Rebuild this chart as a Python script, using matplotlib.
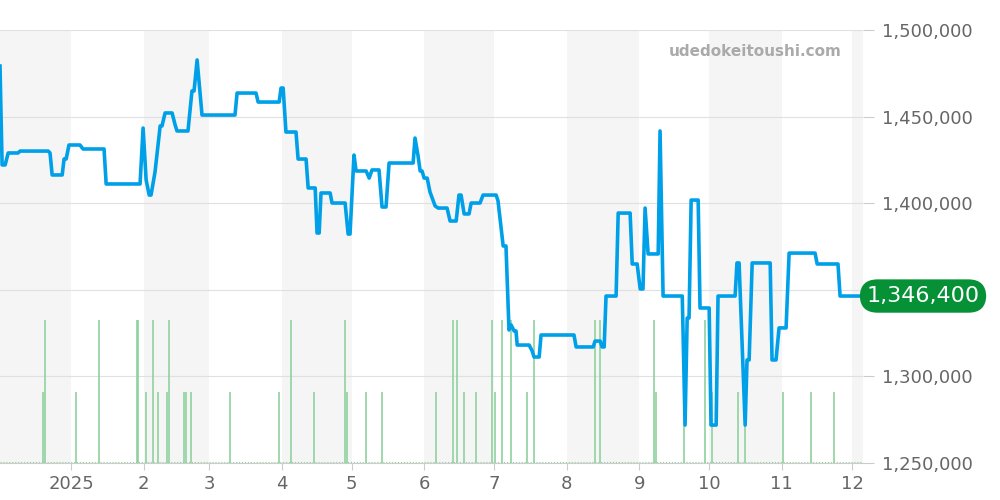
import numpy as np
import matplotlib.pyplot as plt

# price series: day offset from 2025-01-01, price in JPY
days = [-30.4, -29.5, -28.2, -26.9, -22.7, -21.8, -9.8, -9.0, -8.1, -3.8, -3.0, -2.1, -0.9,
        3.8, 5.1, 14.1, 15.0, 29.5, 30.8, 32.1, 33.4, 34.2, 35.9, 38.1, 38.9, 40.2, 43.2,
        44.5, 45.3, 50.0, 51.7, 52.6, 53.9, 56.0, 70.1, 71.0, 79.1, 80.0, 89.0, 89.8, 90.7,
        91.9, 96.2, 97.1, 100.5, 101.4, 104.4, 105.2, 106.1, 106.9, 110.8, 111.6, 117.2,
        118.5, 119.3, 121.0, 121.9, 126.2, 127.5, 128.7, 131.7, 133.0, 134.7, 136.0, 146.3,
        147.1, 148.4, 149.3, 150.1, 151.0, 152.3, 153.5, 155.7, 157.0, 160.8, 162.1, 164.7,
        165.9, 166.8, 168.1, 170.2, 171.1, 174.9, 176.2, 181.8, 182.6, 184.8, 186.0, 187.3,
        188.2, 189.5, 190.3, 190.8, 195.9, 197.2, 198.0, 200.2, 201.0, 215.1, 216.0, 223.3,
        224.1, 226.3, 227.1, 228.0, 228.8, 233.1, 234.0, 239.1, 240.0, 242.1, 243.4, 244.6,
        245.5, 246.8, 251.1, 251.9, 253.2, 261.4, 262.6, 263.5, 264.3, 265.2, 268.2, 269.0,
        272.9, 273.7, 275.9, 276.7, 284.0, 284.8, 285.7, 288.3, 289.1, 290.0, 291.3, 299.0,
        299.8, 301.5, 302.8, 305.8, 307.1, 318.2, 319.1, 328.0, 328.9, 338.3]
prices = [1479200, 1422100, 1422100, 1429000, 1429000, 1430100, 1430100, 1429000, 1416300,
          1416300, 1425500, 1425500, 1433600, 1433600, 1431300, 1431300, 1411100, 1411100,
          1443400, 1413400, 1404700, 1404700, 1418000, 1444600, 1444600, 1452100, 1452100,
          1445200, 1441700, 1441700, 1464800, 1464800, 1482700, 1450900, 1450900, 1463600,
          1463600, 1458400, 1458400, 1466500, 1466500, 1441100, 1441100, 1425500, 1425500,
          1408800, 1408800, 1382800, 1382800, 1405900, 1405900, 1400100, 1400100, 1382200,
          1382200, 1427800, 1418600, 1418600, 1414500, 1419200, 1419200, 1397800, 1397800,
          1423200, 1423200, 1437600, 1427300, 1418600, 1418600, 1414500, 1414500, 1406500,
          1398400, 1397200, 1397200, 1389700, 1389700, 1404700, 1404700, 1393800, 1393800,
          1400100, 1400100, 1404700, 1404700, 1401300, 1375300, 1375300, 1326800, 1329700,
          1326200, 1326200, 1318100, 1318100, 1314700, 1311200, 1311200, 1323900, 1323900,
          1317000, 1317000, 1320400, 1320400, 1317000, 1317000, 1346400, 1346400, 1394300,
          1394300, 1364900, 1364900, 1350500, 1350500, 1397200, 1370700, 1370700, 1441700,
          1346400, 1346400, 1271900, 1333700, 1333700, 1401800, 1401800, 1339500, 1339500,
          1271900, 1271900, 1346400, 1346400, 1365500, 1365500, 1271900, 1309500, 1309500,
          1365500, 1365500, 1309500, 1309500, 1328000, 1328000, 1371200, 1371200, 1364900,
          1364900, 1346400, 1346400]

# trade counts
vol2_days = [-11.3, 12.0, 28.1, 28.8, 35.1, 42.0, 94.1, 117.1, 163.2, 164.9, 180.1, 184.2,
             188.2, 198.1, 224.1, 226.1, 249.2, 271.2]
vol1_days = [-11.8, 2.1, 32.1, 37.1, 41.1, 48.2, 49.1, 51.2, 68.0, 89.1, 104.1, 118.2, 126.2,
             133.1, 156.0, 168.1, 173.1, 181.2, 195.0, 250.2, 262.2, 274.2, 285.3, 288.2,
             304.3, 316.3, 326.3]

month_starts = [0, 31, 59, 90, 120, 151, 181, 212, 243, 273, 304, 334]
month_labels = ["2025", "2", "3", "4", "5", "6", "7", "8", "9", "10", "11", "12"]
price_ticks = list(range(1250000, 1500001, 50000))
last_price = 1346400

fig = plt.figure(figsize=(10, 5), dpi=100)
ax = fig.add_axes([0.0, 0.074, 0.863, 0.866])
x0, x1 = -30.4, 338.7

# alternating month bands
edges = [-31] + month_starts + [366]
for i in range(len(edges) - 1):
    if i % 2 == 0:
        ax.axvspan(edges[i], edges[i + 1], color="#f5f5f5", zorder=0, lw=0)

for v in price_ticks:
    ax.axhline(v, color="#e0e0e0", lw=0.8, zorder=1)

ax2 = ax.twinx()
ax2.set_ylim(0, 6.06)
ax2.vlines(vol2_days, 0, 2, color="#8fd19e", lw=1.2)
ax2.vlines(vol1_days, 0, 1, color="#8fd19e", lw=1.2)
ax2.axhline(0.01, color="#8fd19e", lw=0.8, ls=":")
ax2.set_yticks([])
ax2.set_zorder(ax.get_zorder() + 1)
ax2.patch.set_visible(False)

ax3 = ax.twinx()
ax3.set_zorder(ax2.get_zorder() + 1)
ax3.patch.set_visible(False)
ax3.plot(days, prices, color="#00a0e9", lw=2.6, solid_joinstyle="round")
ax3.set_ylim(1250000, 1500000)
ax3.set_yticks(price_ticks)
# the 1,350,000 label sits under the current-price badge
ax3.set_yticklabels(["" if v == 1350000 else f"{v:,}" for v in price_ticks],
                    fontsize=13, color="#666666")
ax3.tick_params(axis="y", length=8, color="#cccccc", pad=6)
ax.set_yticks([])
ax.set_ylim(1250000, 1500000)

for a in (ax, ax2, ax3):
    a.set_xlim(x0, x1)
    for s in a.spines.values():
        s.set_visible(False)

ax.set_xticks(month_starts)
ax.set_xticklabels(month_labels, fontsize=13, color="#666666")
ax.tick_params(axis="x", length=5, color="#cccccc")
ax.spines["bottom"].set_visible(True)
ax.spines["bottom"].set_color("#cccccc")

ax3.text(1.004, last_price, f"{last_price:,}", transform=ax3.get_yaxis_transform(),
         ha="left", va="center", fontsize=16, color="white",
         bbox=dict(boxstyle="round,pad=0.3,rounding_size=0.8", fc="#069137", ec="none"))
ax3.text(0.975, 0.95, "udedokeitoushi.com", transform=ax3.transAxes, ha="right",
         va="center", fontsize=11, fontweight="bold", color="#aaaaaa")

fig.savefig("out.png", dpi=100)
